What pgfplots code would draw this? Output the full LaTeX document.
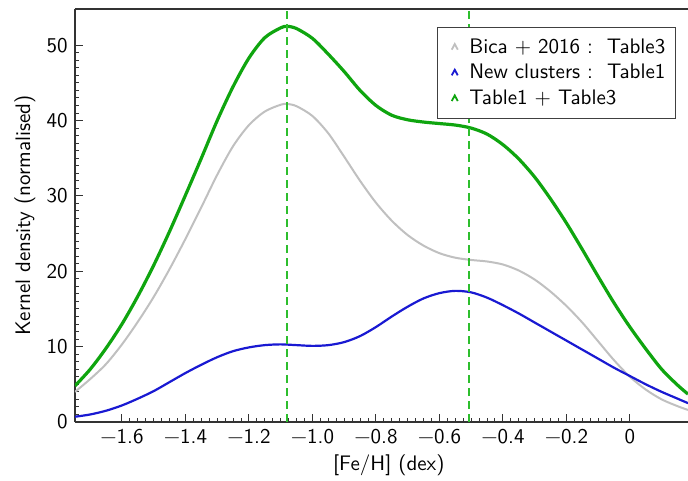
\documentclass[border=0pt]{standalone}
\usepackage{fontspec}
\usepackage{pgfplots}
\pgfplotsset{compat=1.18}
\renewcommand{\familydefault}{\sfdefault}
\definecolor{cgreen}{RGB}{15,165,15}
\definecolor{cdash}{RGB}{45,190,45}
\definecolor{cblue}{RGB}{25,25,210}
\definecolor{cgray}{RGB}{192,192,192}
\pgfplotstableread{
x y
-1.748 4.8
-1.70 7.0
-1.65 9.8
-1.60 13.0
-1.55 16.7
-1.50 20.8
-1.45 25.3
-1.40 30.1
-1.35 35.0
-1.30 40.0
-1.25 44.5
-1.20 48.3
-1.15 51.0
-1.10 52.3
-1.08 52.5
-1.05 52.2
-1.00 50.9
-0.95 48.8
-0.90 46.5
-0.85 44.0
-0.80 42.0
-0.75 40.7
-0.70 40.1
-0.65 39.8
-0.60 39.6
-0.55 39.4
-0.50 39.0
-0.45 38.2
-0.40 36.8
-0.35 34.9
-0.30 32.5
-0.25 29.6
-0.20 26.4
-0.15 22.9
-0.10 19.3
-0.05 15.8
0.00 12.6
0.05 9.7
0.10 7.0
0.15 4.9
0.183 3.7
}\greendata
\pgfplotstableread{
x y
-1.748 4.0
-1.70 5.7
-1.65 7.7
-1.60 10.3
-1.55 13.3
-1.50 16.6
-1.45 20.3
-1.40 24.3
-1.35 28.5
-1.30 32.8
-1.25 36.6
-1.20 39.4
-1.15 41.2
-1.10 42.1
-1.08 42.2
-1.05 41.9
-1.00 40.6
-0.95 38.3
-0.90 35.2
-0.85 32.0
-0.80 29.1
-0.75 26.7
-0.70 24.8
-0.65 23.4
-0.60 22.4
-0.55 21.8
-0.50 21.5
-0.45 21.3
-0.40 20.9
-0.35 20.1
-0.30 18.9
-0.25 17.3
-0.20 15.4
-0.15 13.2
-0.10 10.7
-0.05 8.2
0.00 6.0
0.05 4.3
0.10 3.0
0.15 2.1
0.183 1.6
}\graydata
\pgfplotstableread{
x y
-1.748 0.7
-1.70 1.0
-1.65 1.5
-1.60 2.2
-1.55 3.1
-1.50 4.1
-1.45 5.3
-1.40 6.5
-1.35 7.6
-1.30 8.6
-1.25 9.4
-1.20 9.9
-1.15 10.2
-1.10 10.3
-1.05 10.2
-1.00 10.1
-0.95 10.2
-0.90 10.6
-0.85 11.4
-0.80 12.6
-0.75 14.0
-0.70 15.3
-0.65 16.4
-0.60 17.1
-0.55 17.4
-0.50 17.2
-0.45 16.5
-0.40 15.5
-0.35 14.4
-0.30 13.2
-0.25 12.0
-0.20 10.8
-0.15 9.6
-0.10 8.4
-0.05 7.2
0.00 6.1
0.05 5.0
0.10 4.0
0.15 3.1
0.183 2.5
}\bluedata
\begin{document}
\fontsize{10.5bp}{12.6bp}\selectfont
\begin{tikzpicture}
\begin{axis}[
  name=ax,
  scale only axis,
  width=306.5bp, height=206.5bp,
  xmin=-1.748, xmax=0.183,
  ymin=0, ymax=54.8,
  axis line style={black!80, line width=0.6bp},
  axis x line*=bottom, axis y line*=left,
  separate axis lines,
  every outer x axis line/.append style={-},
  every outer y axis line/.append style={-},
  extra description/.code={
    \draw[black!80, line width=0.6bp] (rel axis cs:0,1) -- (rel axis cs:1,1);
  },
  tick align=inside,
  major tick length=4bp,
  minor tick length=2bp,
  tick style={black!80, line width=0.5bp},
  xtick={-1.6,-1.4,-1.2,-1.0,-0.8,-0.6,-0.4,-0.2,0},
  xticklabels={−1.6,−1.4,−1.2,−1.0,−0.8,−0.6,−0.4,−0.2,0},
  ytick={0,10,20,30,40,50},
  minor x tick num=7,
  minor y tick num=9,
  /pgf/number format/assume math mode=true,
  tick label style={font=\fontsize{10.5bp}{12.6bp}\selectfont},
  xlabel={[Fe/H] (dex)},
  ylabel={Kernel density (normalised)},
  xlabel style={at={(axis description cs:0.512,-0.104)}, anchor=center},
  ylabel style={at={(axis description cs:-0.0816,0.5)}, anchor=center},
  label style={font=\fontsize{10.5bp}{12.6bp}\selectfont},
  legend cell align=left,
  legend style={at={(axis description cs:1,1)}, anchor=north east,
    xshift=-6bp, yshift=-9bp, draw=black!75, line width=0.6bp,
    inner xsep=3bp, inner ysep=3.5bp, row sep=0bp,
    font=\fontsize{10.5bp}{12.6bp}\selectfont},
  legend image code/.code={
    \path[draw=none, fill=none] (0bp,0bp) rectangle (11bp,0.1bp);
    \draw[#1, solid, line width=0.9bp] (4.2bp,-1.1bp) -- (5.7bp,1.7bp) -- (7.2bp,-1.1bp);},
]
\addplot[cgray, line width=1bp, smooth] table[x=x,y=y] {\graydata};
\addlegendentry{Bica + 2016 :\ \ Table3}
\addplot[cblue, line width=1.1bp, smooth] table[x=x,y=y] {\bluedata};
\addlegendentry{New clusters :\ \ Table1}
\addplot[cgreen, line width=1.6bp, smooth] table[x=x,y=y] {\greendata};
\addlegendentry{Table1 + Table3}
\addplot[cdash, line width=1bp, dash pattern=on 4bp off 2.5bp, forget plot] coordinates {(-1.081,0) (-1.081,54.8)};
\addplot[cdash, line width=1bp, dash pattern=on 4bp off 2.5bp, forget plot] coordinates {(-0.506,0) (-0.506,54.8)};
\end{axis}
\pgfresetboundingbox
\path[use as bounding box] ([shift={(-37.5bp,-29.5bp)}]ax.south west) rectangle ([shift={(0bp,4.5bp)}]ax.north east);
\end{tikzpicture}
\end{document}
